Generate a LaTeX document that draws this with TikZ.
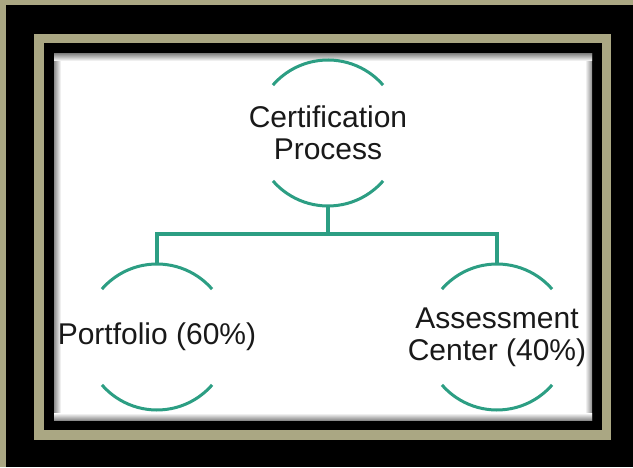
\documentclass[tikz,border=0pt]{standalone}
\usepackage{fontspec}
\setmainfont{Liberation Sans}
\usepackage{tikz}
\usetikzlibrary{positioning,calc}

\definecolor{framekhaki}{RGB}{170,167,131}
\definecolor{treegreen}{RGB}{44,158,131}

\tikzset{
  bubble/.style={inner sep=0pt,align=center,
    font=\fontsize{30}{32}\selectfont,text=black!90},
  rim/.style={treegreen,line width=3pt},
  link/.style={treegreen,line width=4pt}
}

\begin{document}
\begin{tikzpicture}[x=1pt,y=1pt]
  \useasboundingbox (0,0) rectangle (633,467);

  % picture frame
  \fill[framekhaki] (0,0) rectangle (633,467);
  \fill[black] (6,0) rectangle (633,462);
  \fill[framekhaki] (34,27) rectangle (611,433);
  \fill[black] (44,37) rectangle (602,424);
  \fill[white] (54,47) rectangle (592,413);
  % soft inner shadow
  \shade[left color=black!45,right color=white] (54,47) rectangle (61,413);
  \shade[left color=white,right color=black!45] (585,47) rectangle (592,413);
  \shade[top color=black!45,bottom color=white] (54,406) rectangle (592,413);
  \shade[top color=white,bottom color=black!45] (54,47) rectangle (592,54);

  % the three items
  \node[bubble] (cert) at (328,334) {Certification\\Process};
  \node[bubble] (port) at (157,130) {Portfolio (60\%)};
  \node[bubble] (assess) at (497,130) {Assessment\\Center (40\%)};

  % open arcs above and below each item
  \foreach \n in {cert,port,assess} {
    \draw[rim] ($(\n.center)+(41:73)$) arc[start angle=41,end angle=139,radius=73];
    \draw[rim] ($(\n.center)+(-139:73)$) arc[start angle=-139,end angle=-41,radius=73];
  }

  % tree links
  \coordinate (bar) at (328,233);
  \draw[link] ($(cert.center)+(0,-73)$) -- (bar);
  \draw[link] ($(port.center)+(0,73)$) |- (bar) -| ($(assess.center)+(0,73)$);

\end{tikzpicture}
\end{document}
